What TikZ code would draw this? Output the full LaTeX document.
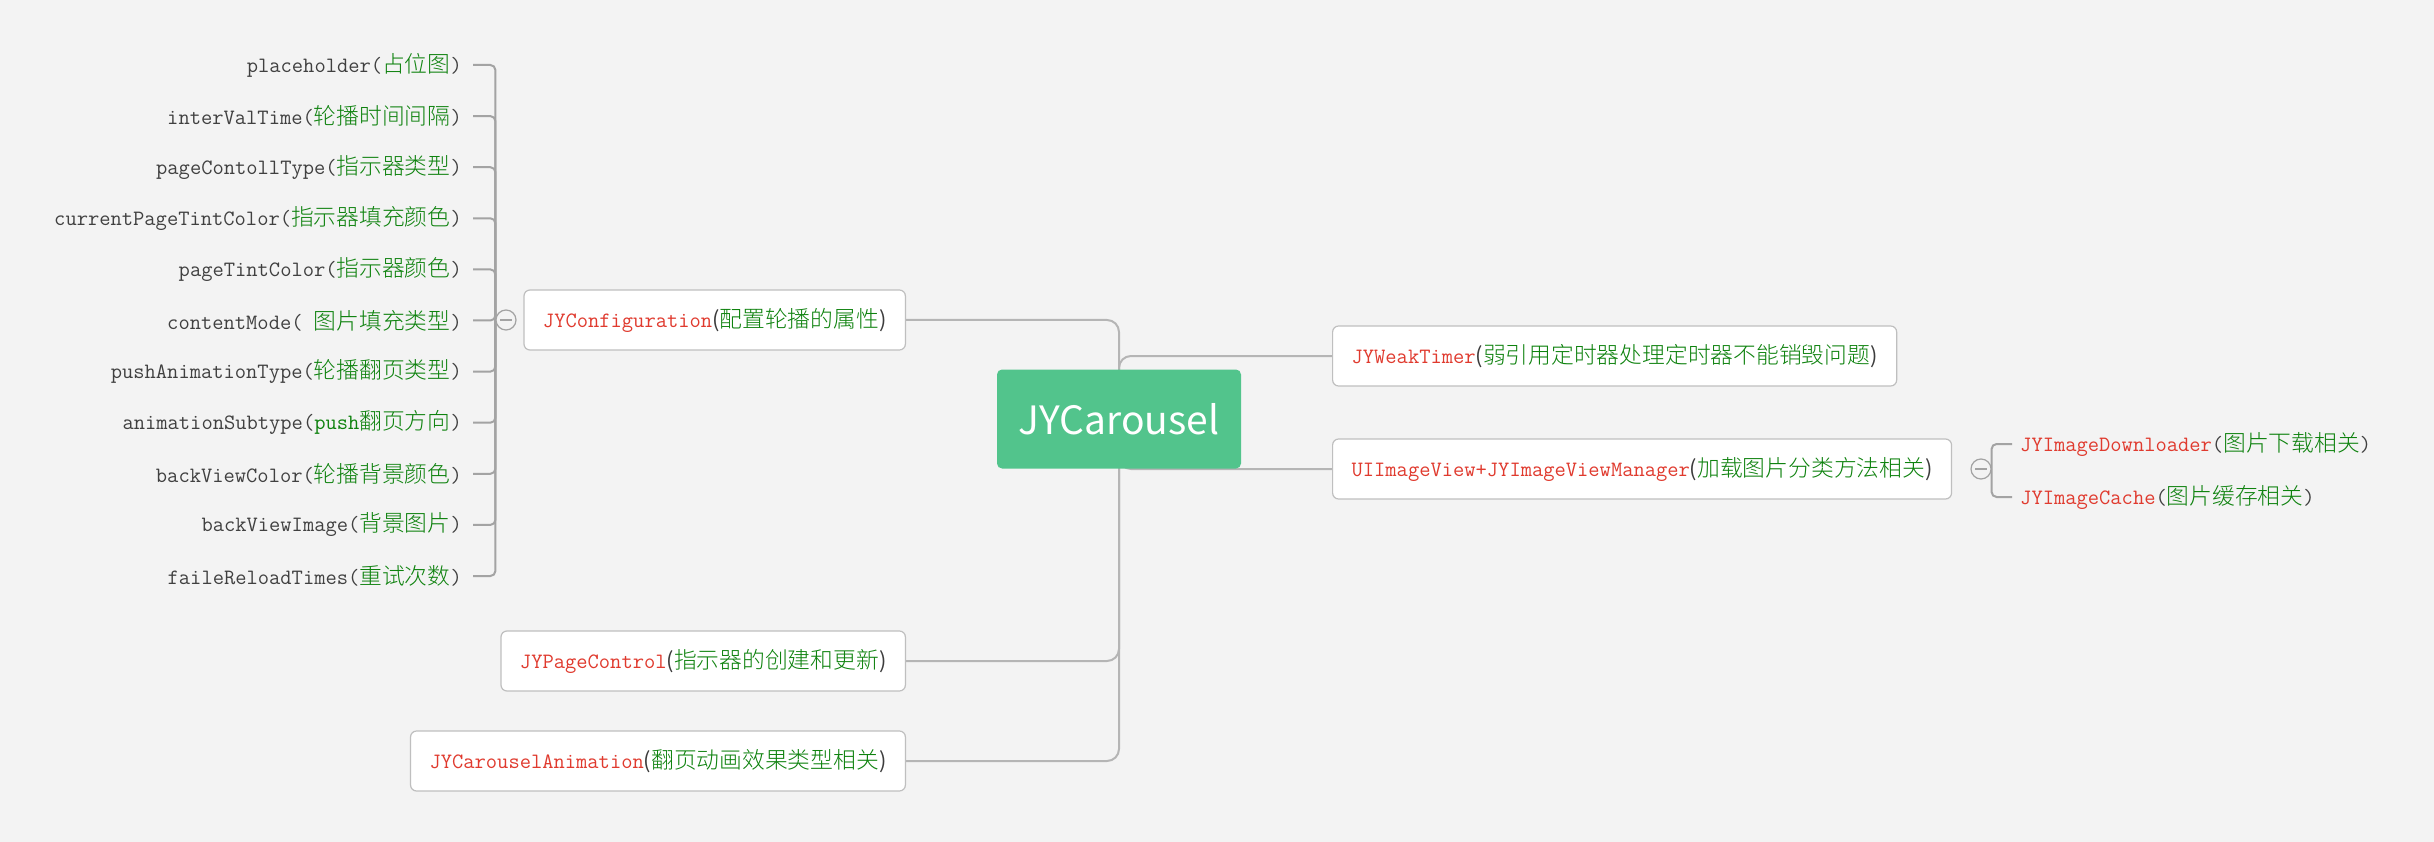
\documentclass[tikz,border=0pt]{standalone}
\usepackage{fontspec}
\usepackage{xcolor}
\usepackage{tikz}
\usetikzlibrary{positioning, backgrounds, calc}

\newfontfamily\cjk[Scale=1.04, UprightFont={* Light}]{Noto Sans CJK SC}
\newfontfamily\yahei{Noto Sans CJK SC}

\definecolor{bgc}{HTML}{F3F3F3}
\definecolor{rootgreen}{HTML}{52C48C}
\definecolor{nmred}{HTML}{E03A2E}
\definecolor{zhgreen}{HTML}{0E820E}
\definecolor{propgray}{HTML}{404040}
\definecolor{pardark}{HTML}{3C3C3C}
\definecolor{linegray}{HTML}{B5B5B5}
\definecolor{brkgray}{HTML}{A3A3A3}
\definecolor{boxline}{HTML}{BFBFBF}

\newcommand{\zh}[1]{{\cjk\color{zhgreen}#1}}
\newcommand{\cls}[2]{{\color{nmred}#1}{\yahei\color{pardark}(}\zh{#2}{\yahei\color{pardark})}}

\begin{document}
\begin{tikzpicture}[x=1pt, y=-1pt,
            prop/.style={anchor=east, inner sep=0pt, text=propgray, font=\fontsize{21.9}{26}\selectfont\ttfamily},
            cbox/.style={draw=boxline, line width=1.2pt, fill=white, rounded corners=6pt, minimum height=60pt, inner xsep=19pt, font=\fontsize{21.9}{26}\selectfont\ttfamily},
            conn/.style={linegray, line width=2pt, rounded corners=12pt},
            brk/.style={brkgray, line width=2pt, rounded corners=5pt},
            fold/.style={circle, draw=brkgray, line width=1.2pt, fill=bgc, minimum size=20pt, inner sep=0pt,
                path picture={\draw[brkgray, line width=1.2pt] ([xshift=-6pt]path picture bounding box.center) -- ([xshift=6pt]path picture bounding box.center);}},
        ]
        \node[fill=rootgreen, rounded corners=5pt, minimum width=244pt, minimum height=99pt, text=white,
              font=\yahei\fontsize{39}{46}\selectfont] (root) at (1119,419) {JYCarousel};

        \node[cbox, anchor=east] (cfg)   at (906,320)  {\cls{JYConfiguration}{配置轮播的属性}};
        \node[cbox, anchor=west] (timer) at (1332,356) {\cls{JYWeakTimer}{弱引用定时器处理定时器不能销毁问题}};
        \node[cbox, anchor=west] (img)   at (1332,469) {\cls{UIImageView+JYImageViewManager}{加载图片分类方法相关}};
        \node[cbox, anchor=east] (pgc)   at (906,661)  {\cls{JYPageControl}{指示器的创建和更新}};
        \node[cbox, anchor=east] (anim)  at (906,761)  {\cls{JYCarouselAnimation}{翻页动画效果类型相关}};

        \node[fold] (cdot) at (506,320) {};
        \node[fold] (idot) at (1981,469) {};

        \node[prop, anchor=west] (dl) at (2020,444) {{\color{nmred}JYImageDownloader}(\zh{图片下载相关})};
        \node[prop, anchor=west] (ch) at (2020,497) {{\color{nmred}JYImageCache}(\zh{图片缓存相关})};

        \foreach \i/\nm/\ds in {1/placeholder/占位图, 2/interValTime/轮播时间间隔, 3/pageContollType/指示器类型,
                4/currentPageTintColor/指示器填充颜色, 5/pageTintColor/指示器颜色, 6/contentMode/{{\ttfamily\ }图片填充类型},
                7/pushAnimationType/轮播翻页类型, 8/animationSubtype/{{\ttfamily push}翻页方向}, 9/backViewColor/轮播背景颜色,
                10/backViewImage/背景图片, 11/faileReloadTimes/重试次数} {
            \pgfmathsetmacro{\yy}{65+51.1*(\i-1)}
            \node[prop] (p\i) at (462,\yy) {\nm(\zh{\ds})};
        }

        \begin{scope}[on background layer]
            \fill[bgc] (0,0) rectangle (2434,842);
            \foreach \i in {1,...,11}
                \draw[brk] ([xshift=11pt]p\i.east) -| (cdot.west);
            \draw[brk] ([xshift=-8pt]dl.west) -| (idot.east);
            \draw[brk] ([xshift=-8pt]ch.west) -| (idot.east);

            \draw[conn] (root.center) |- (cfg.east);
            \draw[conn] (root.center) |- (timer.west);
            \draw[conn] (root.center) |- (img.west);
            \draw[conn] (root.center) |- (pgc.east);
            \draw[conn] (root.center) |- (anim.east);
        \end{scope}
    \end{tikzpicture}
\end{document}
